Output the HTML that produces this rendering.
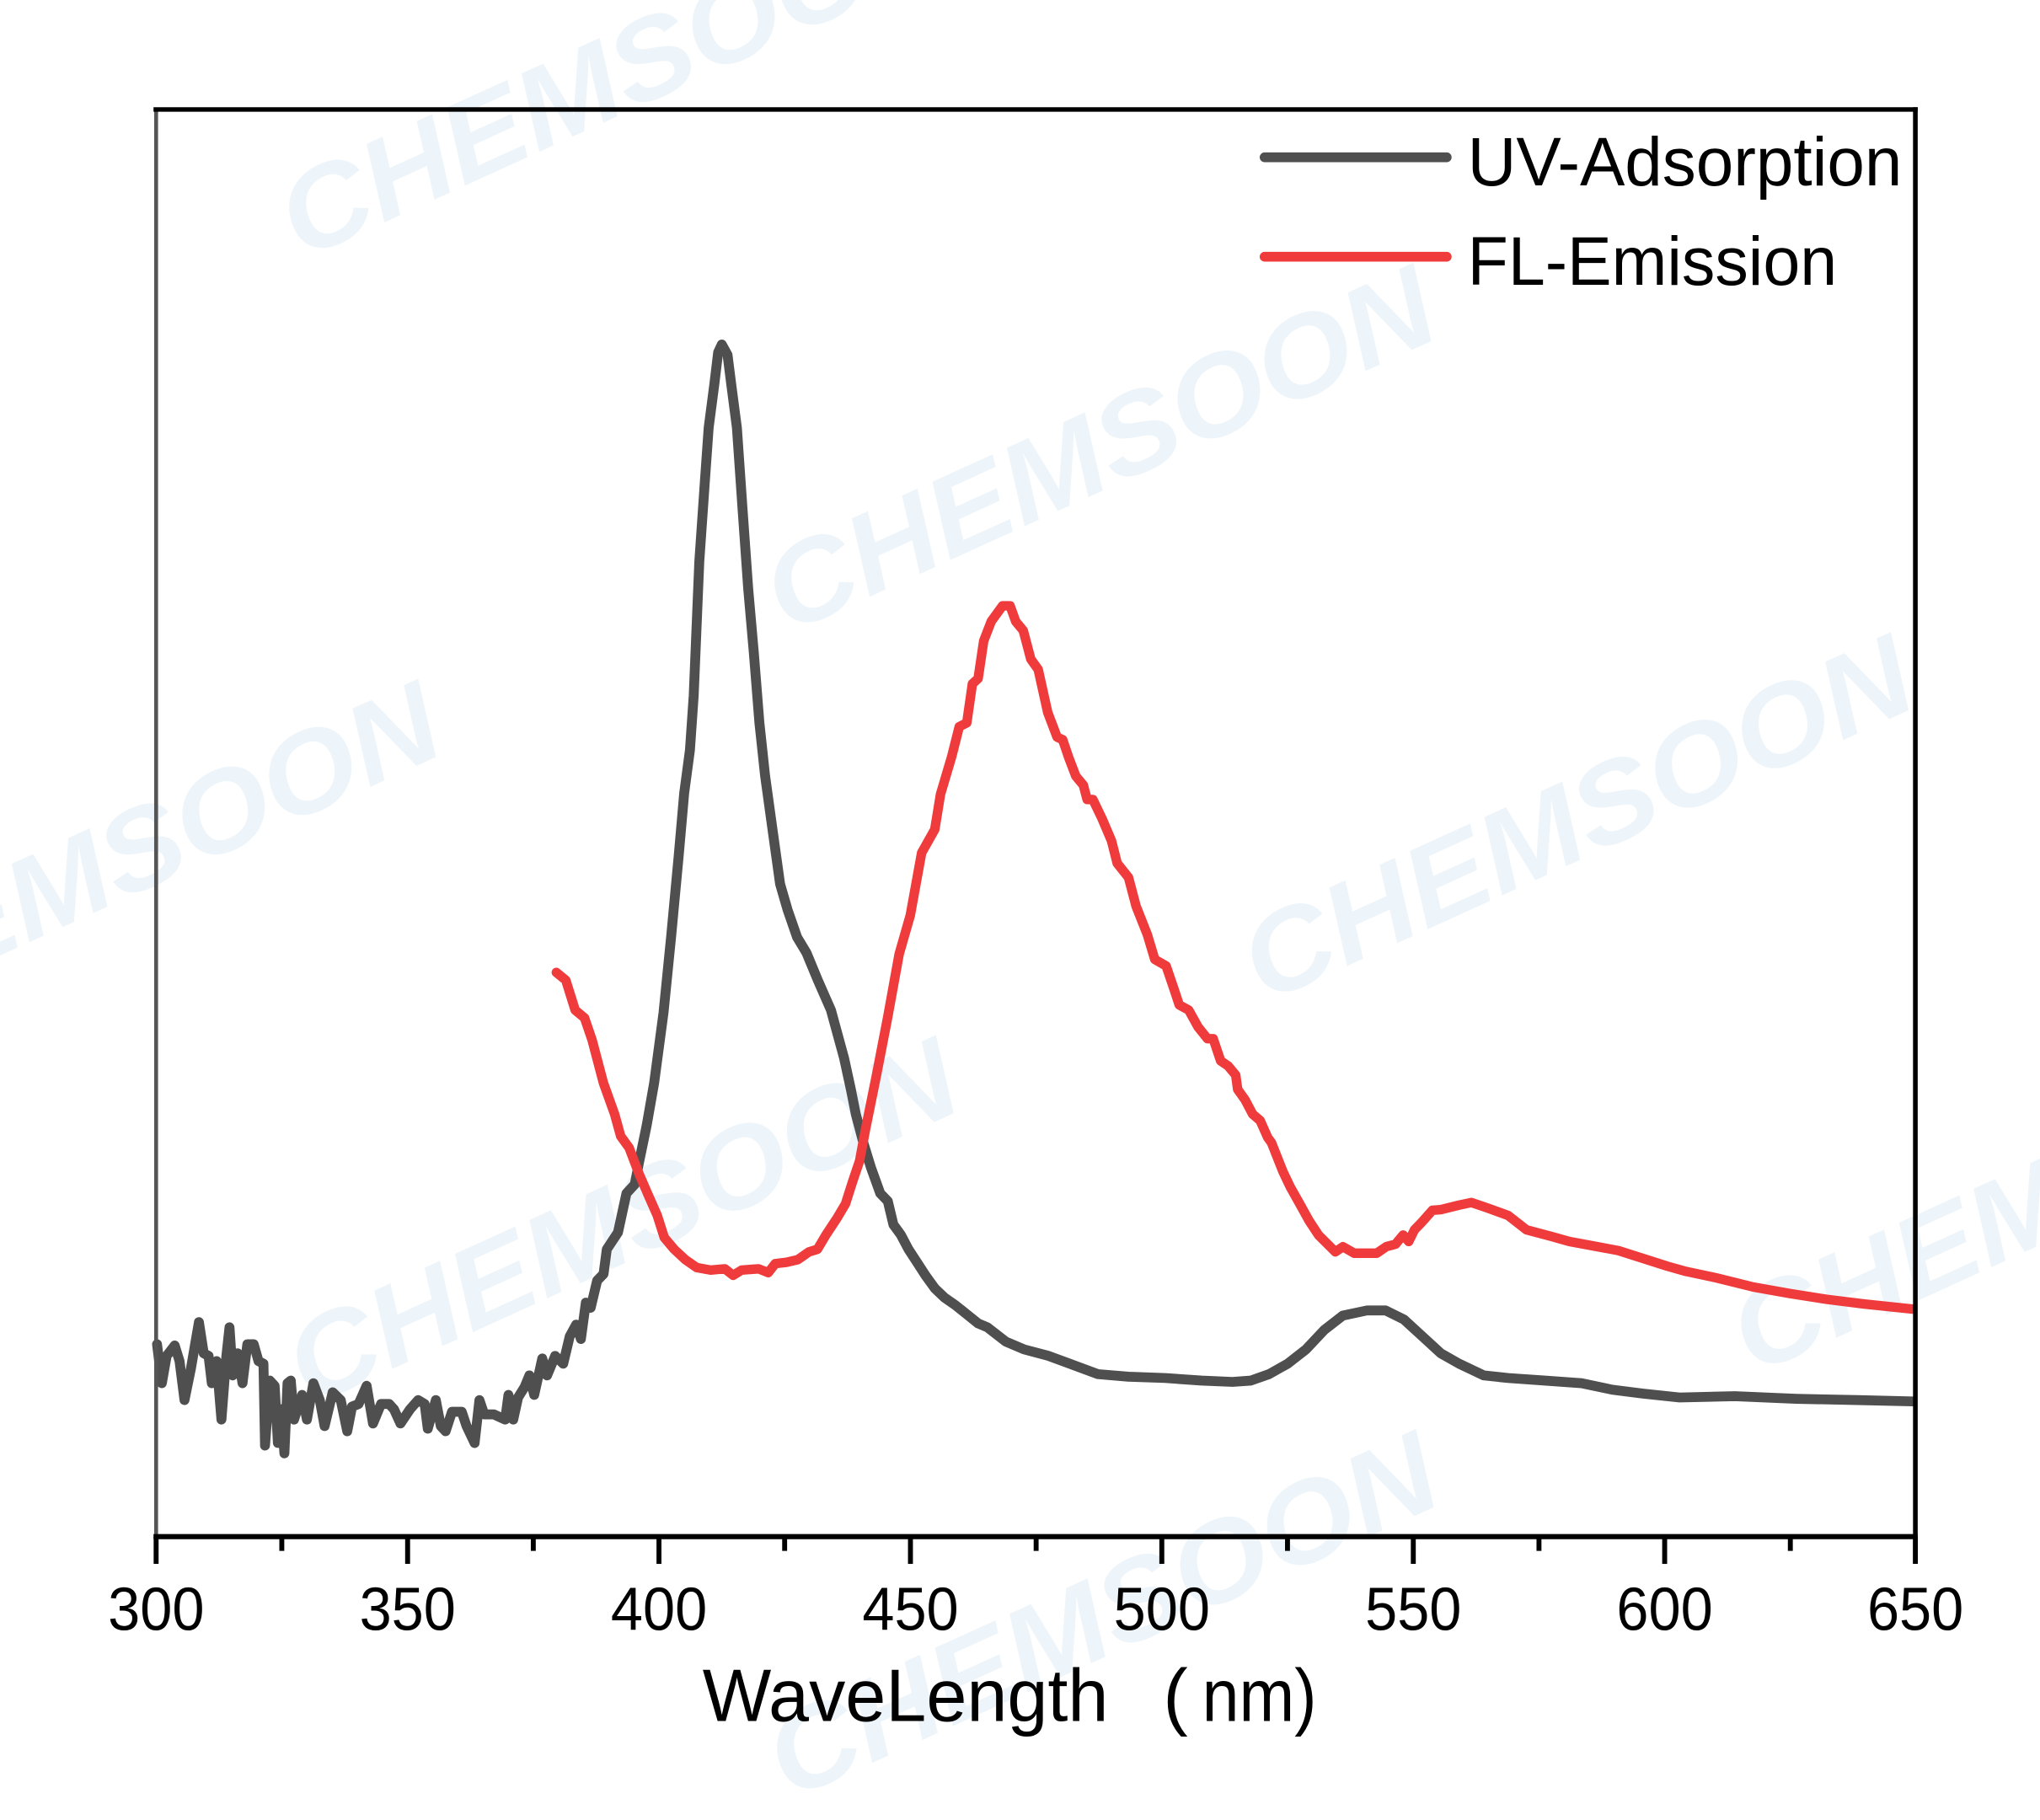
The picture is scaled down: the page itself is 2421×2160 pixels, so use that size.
<!DOCTYPE html>
<html>
<head>
<meta charset="utf-8">
<style>
html,body{margin:0;padding:0;background:#ffffff;}
svg{display:block;}
</style>
</head>
<body>
<svg width="2421" height="2160" viewBox="0 0 1568 1400" preserveAspectRatio="none" xmlns="http://www.w3.org/2000/svg">
<rect x="0" y="0" width="1568" height="1400" fill="#ffffff"/>
<!-- watermarks -->
<g font-family="Liberation Sans, Arial, sans-serif" font-weight="bold" font-style="italic" font-size="88" fill="#eef5fa">
<text x="232" y="200" textLength="555" lengthAdjust="spacingAndGlyphs" transform="rotate(-24.5 232 200)">CHEMSOON</text>
<text x="605" y="488" textLength="555" lengthAdjust="spacingAndGlyphs" transform="rotate(-24.5 605 488)">CHEMSOON</text>
<text x="-160" y="808" textLength="555" lengthAdjust="spacingAndGlyphs" transform="rotate(-24.5 -160 808)">CHEMSOON</text>
<text x="972" y="772" textLength="555" lengthAdjust="spacingAndGlyphs" transform="rotate(-24.5 972 772)">CHEMSOON</text>
<text x="238" y="1082" textLength="555" lengthAdjust="spacingAndGlyphs" transform="rotate(-24.5 238 1082)">CHEMSOON</text>
<text x="1348" y="1058" textLength="555" lengthAdjust="spacingAndGlyphs" transform="rotate(-24.5 1348 1058)">CHEMSOON</text>
<text x="607" y="1385" textLength="555" lengthAdjust="spacingAndGlyphs" transform="rotate(-24.5 607 1385)">CHEMSOON</text>
</g>
<!-- UV curve -->
<polyline fill="none" stroke="#4f4f4f" stroke-width="7.6" stroke-linejoin="round" stroke-linecap="round" points="120.7,1034 124.4,1064 128.1,1043 134.3,1035 138,1047 141.8,1077 146.7,1053 152.9,1017 156.6,1041 160.3,1043 162.8,1064 166.5,1047 170.2,1092 174,1043 176.4,1021 178.9,1058 182.6,1041 186.4,1064 190.1,1034 195,1034 198.7,1047 202.5,1049 203.7,1112 207.4,1062 211.1,1066 213.6,1110 216.1,1084 218.6,1118 221,1064 223.5,1062 226,1092 232.2,1073 235.9,1092 240.9,1064 245.8,1077 249.5,1097 255.7,1071 261.9,1077 266.9,1101 270.6,1082 275.6,1080 281.8,1066 286.7,1095 292.9,1080 299.1,1080 302.8,1084 307.8,1095 315.2,1084 321.4,1077 326.4,1080 328.8,1099 335,1077 338.8,1097 342.5,1101 347.4,1086 354.9,1086 358.6,1097 364.8,1110 368.5,1077 372.2,1088 379.6,1088 388.3,1092 390.8,1073 394.5,1092 398.2,1075 403.2,1067 406.9,1058 410.6,1073 416.8,1045 420.5,1058 426.7,1043 432.9,1049 437.9,1028 442.8,1019 446.5,1030 450.3,1002 454,1006 459,985 463.9,980 466.4,961 475,948 481.5,918 487.9,911 491.2,894 497,866 502.8,833 510,779 515.8,721 521.6,659 525.9,610 530.3,577 533.2,535 537.5,432 541.8,370 544.7,329 549,296 552,271 554.8,265 559.2,273 562.1,296 566.4,329 570.7,391 575.1,453 579.4,502 583.7,556 588.1,597 593.9,639 599.6,680 605.4,700 612.7,721 619.9,733 628.6,754 638.7,777 648.8,814 654,838 657.8,857 663.6,879 669.4,898 676.6,918 682.4,924 686.7,942 692.5,950 698.3,961 705.5,972 711.3,981 718.5,991 725.8,998 734.4,1004 743.1,1011 751.8,1018 758.9,1021 773.1,1032 787.2,1038 806,1043 824.9,1050 843.7,1057 867.2,1059 895.5,1060 923.7,1062 947.3,1063 961.4,1062 975.5,1057 989.7,1049 1003.8,1038 1017.9,1023 1032.1,1012 1050.9,1008 1065,1008 1079.1,1015 1093.3,1028 1107.4,1041 1121.5,1049 1140.4,1058 1159.2,1060 1187.5,1062 1215.7,1064 1239.2,1069 1262.8,1072 1291,1075 1333.4,1074 1380.5,1076 1427.6,1077 1470,1078"/>
<!-- FL curve -->
<polyline fill="none" stroke="#ef3b3c" stroke-width="7.3" stroke-linejoin="round" stroke-linecap="round" points="427.6,748 434.9,754 442.1,777 449.3,783 455.1,800 463.8,833 472.4,857 477.1,874 483.6,883 491.2,903 497.7,918 505.2,935 510.6,952 518.2,961 526.8,969 535.4,975 546.2,977 557.1,976 563.5,981 570,977 583,976 590.5,979 595.9,972 604.5,971 613.2,969 621.8,963 628.3,961 634.8,950 643.4,937 649.9,926 655.3,909 660.7,893 665,870 673.7,827 682.4,782 691.1,734 699.7,704 708.4,656 718.5,638 722.9,611 731.5,582 737.3,559 743.1,556 747.4,526 751.8,522 756.1,493 761.9,478 770.6,466 776.4,466 780.7,478 786.5,485 792.3,507 798,515 805.3,548 812.5,567 816.8,569 821.2,582 826.9,597 832.7,604 835.6,615 840,615 847.2,630 854.4,647 858.7,664 867.4,675 873.2,697 881.9,719 887.6,738 896.3,743 902.1,760 906.4,773 913.7,777 920.9,790 928.1,799 932.5,799 938.2,816 944,820 949.8,827 951.3,838 957,846 962.8,857 968.6,862 974.4,875 977.3,879 986,901 991.7,913 999,926 1006.2,939 1013.4,950 1026.4,963 1032.2,959 1040.9,964 1058.2,964 1065.5,959 1072.7,957 1078.5,950 1082.8,955 1087.2,946 1093,940 1101,931 1107.4,930.5 1121.5,927 1131,925 1142.7,929 1159.2,935 1173.3,946 1192.2,951 1206.3,955 1225.1,958.5 1244,962 1262.8,968 1281.6,974 1295.8,978 1319.3,983 1347.6,990 1375.8,995 1404.1,999.5 1432.3,1003 1470,1007"/>
<!-- axes -->
<line x1="120" y1="84" x2="120" y2="1182" stroke="#555555" stroke-width="3"/>
<line x1="118" y1="84.2" x2="1474" y2="84.2" stroke="#000000" stroke-width="3.5"/>
<line x1="1472.2" y1="82.5" x2="1472.2" y2="1184" stroke="#000000" stroke-width="3.6"/>
<line x1="118" y1="1182" x2="1474" y2="1182" stroke="#000000" stroke-width="4"/>
<!-- ticks -->
<g stroke="#000000" stroke-width="3.8">
<line x1="120" y1="1182" x2="120" y2="1203"/>
<line x1="313.3" y1="1182" x2="313.3" y2="1203"/>
<line x1="506.5" y1="1182" x2="506.5" y2="1203"/>
<line x1="699.8" y1="1182" x2="699.8" y2="1203"/>
<line x1="893" y1="1182" x2="893" y2="1203"/>
<line x1="1086.3" y1="1182" x2="1086.3" y2="1203"/>
<line x1="1279.5" y1="1182" x2="1279.5" y2="1203"/>
<line x1="1472.2" y1="1182" x2="1472.2" y2="1203"/>
<line x1="216.6" y1="1182" x2="216.6" y2="1193"/>
<line x1="409.9" y1="1182" x2="409.9" y2="1193"/>
<line x1="603.1" y1="1182" x2="603.1" y2="1193"/>
<line x1="796.4" y1="1182" x2="796.4" y2="1193"/>
<line x1="989.6" y1="1182" x2="989.6" y2="1193"/>
<line x1="1182.9" y1="1182" x2="1182.9" y2="1193"/>
<line x1="1376.1" y1="1182" x2="1376.1" y2="1193"/>
</g>
<!-- tick labels -->
<g font-family="Liberation Sans, Arial, sans-serif" font-size="47" fill="#000000" text-anchor="middle">
<text x="120" y="1254" textLength="74" lengthAdjust="spacingAndGlyphs">300</text>
<text x="313.3" y="1254" textLength="74" lengthAdjust="spacingAndGlyphs">350</text>
<text x="506.5" y="1254" textLength="74" lengthAdjust="spacingAndGlyphs">400</text>
<text x="699.8" y="1254" textLength="74" lengthAdjust="spacingAndGlyphs">450</text>
<text x="893" y="1254" textLength="74" lengthAdjust="spacingAndGlyphs">500</text>
<text x="1086.3" y="1254" textLength="74" lengthAdjust="spacingAndGlyphs">550</text>
<text x="1279.5" y="1254" textLength="74" lengthAdjust="spacingAndGlyphs">600</text>
<text x="1472.2" y="1254" textLength="74" lengthAdjust="spacingAndGlyphs">650</text>
</g>
<!-- x label -->
<g font-family="Liberation Sans, Arial, sans-serif" font-size="57" fill="#000000">
<text x="540" y="1324" textLength="312" lengthAdjust="spacingAndGlyphs">WaveLength</text>
<text x="894" y="1324">(</text>
<text x="924" y="1324" textLength="88" lengthAdjust="spacingAndGlyphs">nm)</text>
</g>
<!-- legend -->
<line x1="972" y1="121" x2="1112" y2="121" stroke="#4f4f4f" stroke-width="7.5" stroke-linecap="round"/>
<line x1="972" y1="197.5" x2="1112" y2="197.5" stroke="#ef3b3c" stroke-width="7.5" stroke-linecap="round"/>
<g font-family="Liberation Sans, Arial, sans-serif" font-size="53" fill="#000000">
<text x="1128" y="142.5" textLength="334" lengthAdjust="spacingAndGlyphs">UV-Adsorption</text>
<text x="1128" y="219" textLength="284" lengthAdjust="spacingAndGlyphs">FL-Emission</text>
</g>
</svg>
</body>
</html>
